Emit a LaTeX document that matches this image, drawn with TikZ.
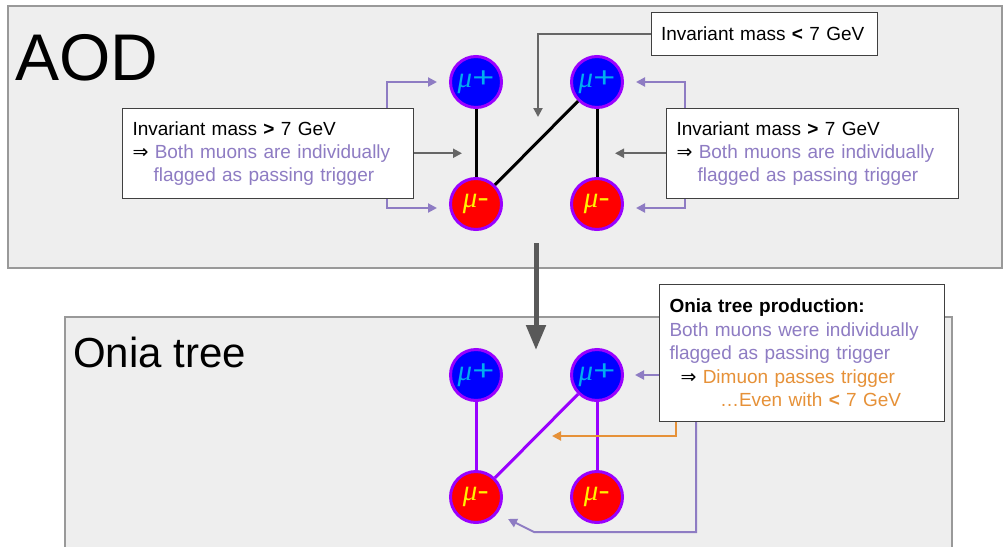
\documentclass[tikz,border=0pt]{standalone}
\usepackage{fontspec}
\setmainfont{Liberation Sans}
\newfontfamily\mufont{Liberation Serif}
\newfontfamily\arrowfont{DejaVu Sans}
\usetikzlibrary{arrows.meta}
\definecolor{panelgray}{HTML}{EEEEEE}
\definecolor{panelline}{HTML}{999999}
\definecolor{linkgray}{HTML}{666666}
\definecolor{linkpurple}{HTML}{8E7CC3}
\definecolor{linkorange}{HTML}{E69138}
\definecolor{muborder}{HTML}{9900FF}
\definecolor{bigarrow}{HTML}{595959}
\newcommand{\mup}{{\mufont\itshape μ}\scalebox{1.3}[1]{+}}
\newcommand{\mum}{{\mufont\itshape μ}\scalebox{1.2}[1]{-}}
\newcommand{\imp}{{\arrowfont ⇒}}
\tikzset{
  panel/.style={fill=panelgray, draw=panelline, line width=1.5pt},
  muplus/.style={circle, fill=blue, draw=muborder, line width=3pt, minimum size=51pt, inner sep=0pt, text=cyan, font=\fontsize{29}{29}\selectfont},
  muminus/.style={muplus, fill=red, text=yellow},
  textbox/.style={draw=black!75, fill=white, line width=1pt, anchor=north west, align=left, inner xsep=10pt, inner ysep=12pt, font=\fontsize{19}{23}\selectfont},
  graylink/.style={draw=linkgray, line width=2pt, -{Triangle[length=9pt,width=9pt]}},
  purplelink/.style={draw=linkpurple, line width=2pt, -{Triangle[length=9pt,width=9pt]}},
  orangelink/.style={draw=linkorange, line width=2pt, -{Triangle[length=9pt,width=9pt]}}
}
\begin{document}
\begin{tikzpicture}[x=1pt, y=-1pt]
  \useasboundingbox (0,0) rectangle (1003,546);
  \draw[panel] (8,6) rectangle (1002,268);
  \draw[panel] (65,317) rectangle (952,560);
  \node[anchor=base west, inner sep=0pt, font=\fontsize{66}{66}\selectfont] (aodlabel) at (15,80) {AOD};
  \node[anchor=base west, inner sep=0pt, font=\fontsize{42}{42}\selectfont] (onialabel) at (73,367) {Onia tree};

  \node[muplus] (amu1) at (476,82) {\mup};
  \node[muplus] (amu2) at (597,82) {\mup};
  \node[muminus] (amu3) at (476,204) {\mum};
  \node[muminus] (amu4) at (597,204) {\mum};
  \draw[line width=3pt] (amu1) -- (amu3);
  \draw[line width=3pt] (amu3) -- (amu2);
  \draw[line width=3pt] (amu2) -- (amu4);

  \node[muplus] (omu1) at (476,375) {\mup};
  \node[muplus] (omu2) at (597,375) {\mup};
  \node[muminus] (omu3) at (476,497) {\mum};
  \node[muminus] (omu4) at (597,497) {\mum};
  \draw[muborder, line width=3pt] (omu1) -- (omu3);
  \draw[muborder, line width=3pt] (omu3) -- (omu2);
  \draw[muborder, line width=3pt] (omu2) -- (omu4);

  \node[textbox, text width=271pt, minimum height=90.5pt] (lbox) at (122,107.5) {Invariant mass \textbf{>} 7 GeV\\ \imp\ \textcolor{linkpurple}{Both muons are individually}\\ \hspace*{21pt}\textcolor{linkpurple}{flagged as passing trigger}};
  \node[textbox, text width=271.5pt, minimum height=90.5pt] (rbox) at (666,107.5) {Invariant mass \textbf{>} 7 GeV\\ \imp\ \textcolor{linkpurple}{Both muons are individually}\\ \hspace*{21pt}\textcolor{linkpurple}{flagged as passing trigger}};
  \node[textbox, text width=206pt, minimum height=43pt] (tbox) at (650.5,12) {Invariant mass \textbf{<} 7 GeV};
  \node[textbox, text width=264.5pt, minimum height=137pt, font=\fontsize{19}{23.5}\selectfont] (obox) at (659,284) {\textbf{Onia tree production:}\\ \textcolor{linkpurple}{Both muons were individually}\\ \textcolor{linkpurple}{flagged as passing trigger}\\ \hspace*{11pt}\imp\ \textcolor{linkorange}{Dimuon passes trigger}\\ \hspace*{50.5pt}\textcolor{linkorange}{…Even with \textbf{<} 7 GeV}};

  \coordinate (thit) at (538,117);
  \coordinate (lhit) at (462,153);
  \coordinate (rhit) at (615,153);
  \coordinate (bigtop) at (536,243);
  \coordinate (bigbot) at (536,350);
  \coordinate (ohit) at (552,436);
  \coordinate (obend) at (534,532);
  \coordinate (otip) at (508,519);

  \draw[graylink] (tbox.west) -| (thit);
  \draw[graylink] (lbox.east) -- (lbox.east -| lhit);
  \draw[graylink] (rbox.west) -- (rbox.west -| rhit);
  \draw[purplelink] ([xshift=-27pt]lbox.north east) |- ([xshift=-12pt]amu1.west);
  \draw[purplelink] ([xshift=-27pt]lbox.south east) |- ([xshift=-12pt,yshift=-4pt]amu3.west);
  \draw[purplelink] ([xshift=19pt]rbox.north west) |- ([xshift=12pt]amu2.east);
  \draw[purplelink] ([xshift=19pt]rbox.south west) |- ([xshift=12pt,yshift=-4pt]amu4.east);

  \draw[bigarrow, line width=5pt, -{Triangle[length=25pt,width=19pt]}] (bigtop) -- (bigbot);

  \draw[purplelink] (omu2 -| obox.west) -- ([xshift=11pt]omu2.east);
  \draw[orangelink] ([xshift=16.5pt]obox.south west) |- (ohit);
  \draw[purplelink] ([xshift=37pt]obox.south west) |- (obend) -- (otip);
\end{tikzpicture}
\end{document}
